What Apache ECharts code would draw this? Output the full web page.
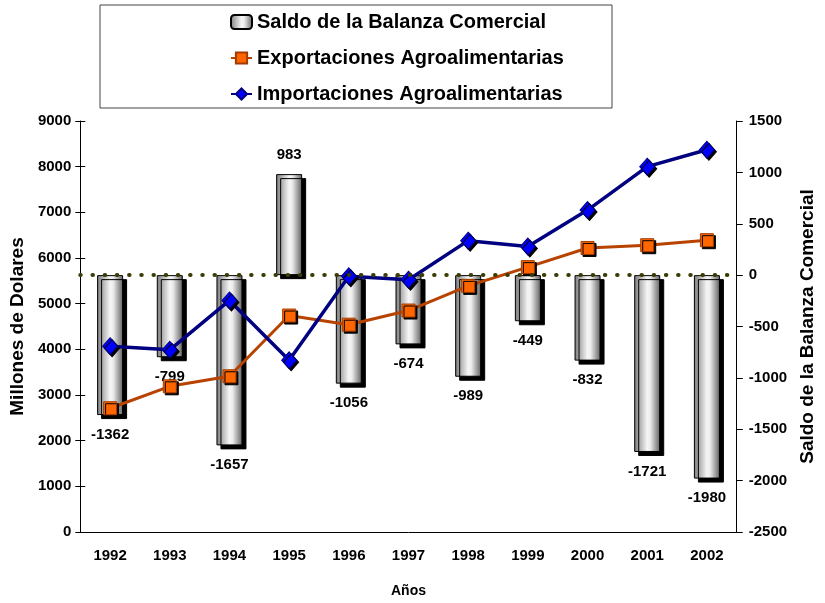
<!DOCTYPE html>
<html>
<head>
<meta charset="utf-8">
<script src="https://cdn.jsdelivr.net/npm/echarts@6/dist/echarts.min.js"></script>
<style>
  html, body { margin: 0; padding: 0; background: #fff; }
  #chart { width: 825px; height: 603px; }
</style>
</head>
<body>
<div id="chart"></div>
<script>
const years = ["1992", "1993", "1994", "1995", "1996", "1997", "1998", "1999", "2000", "2001", "2002"];
const saldo = [-1362, -799, -1657, 983, -1056, -674, -989, -449, -832, -1721, -1980];
const exportaciones = [2710, 3190, 3410, 4740, 4540, 4850, 5390, 5800, 6220, 6280, 6390];
const importaciones = [4070, 3990, 5070, 3760, 5600, 5525, 6380, 6250, 7050, 8000, 8370];
const leftTicks = { min: 0, max: 9000, interval: 1000 };
const rightTicks = { min: -2500, max: 1500, interval: 500 };

const FONT = "'Liberation Sans', Arial, sans-serif";

let chart = echarts.init(document.getElementById("chart"));

// degradado gris tipo cilindro para las barras
let barGradient = new echarts.graphic.LinearGradient(0, 0, 1, 0, [
  { offset: 0, color: "#7a7a7a" },
  { offset: 0.5, color: "#f6f6f6" },
  { offset: 0.62, color: "#ececec" },
  { offset: 1, color: "#606060" }
]);

let plainNumber = v => String(v);

let option = {
  animation: false,
  backgroundColor: "#fff",
  textStyle: { fontFamily: FONT },
  graphic: [
    {
      type: "rect",
      shape: { x: 100, y: 5, width: 512, height: 103 },
      style: { fill: "none", stroke: "#444", lineWidth: 1 },
      z: 0
    }
  ],
  legend: {
    orient: "vertical",
    left: 225,
    top: 6,
    itemWidth: 21,
    itemHeight: 14,
    itemGap: 14,
    textStyle: { fontFamily: FONT, fontSize: 20, fontWeight: "bold", color: "#000", lineHeight: 22 },
    data: [
      "Saldo de la Balanza Comercial",
      "Exportaciones Agroalimentarias",
      "Importaciones Agroalimentarias"
    ]
  },
  grid: { left: 75, right: 83, top: 121, bottom: 64 },
  xAxis: [
    {
      type: "category",
      data: years,
      name: "Años",
      nameLocation: "middle",
      nameGap: 52,
      nameTextStyle: { fontFamily: FONT, fontSize: 14, fontWeight: "bold", color: "#000" },
      axisLine: { lineStyle: { color: "#000", width: 1 } },
      axisTick: { length: 7, lineStyle: { color: "#000" } },
      axisLabel: { fontFamily: FONT, fontSize: 15, fontWeight: "bold", color: "#000", margin: 16 }
    },
    {
      type: "category",
      data: years,
      position: "bottom",
      axisLine: { show: false },
      axisTick: { inside: true, length: 7, lineStyle: { color: "#000" } },
      axisLabel: { show: false }
    }
  ],
  yAxis: [
    {
      type: "value",
      min: leftTicks.min,
      max: leftTicks.max,
      interval: leftTicks.interval,
      name: "Millones de Dolares",
      nameLocation: "middle",
      nameRotate: 90,
      nameGap: 37,
      nameTextStyle: { fontFamily: FONT, fontSize: 19, fontWeight: "bold", color: "#000" },
      axisLine: { show: true, lineStyle: { color: "#000", width: 1 } },
      axisTick: { show: true, length: 5, lineStyle: { color: "#000" } },
      axisLabel: { fontFamily: FONT, fontSize: 15, fontWeight: "bold", color: "#000", margin: 9, formatter: plainNumber },
      splitLine: { show: false }
    },
    {
      type: "value",
      position: "right",
      min: rightTicks.min,
      max: rightTicks.max,
      interval: rightTicks.interval,
      name: "Saldo de la Balanza Comercial",
      nameLocation: "middle",
      nameRotate: 90,
      nameGap: 40,
      nameTextStyle: { fontFamily: FONT, fontSize: 19, fontWeight: "bold", color: "#000" },
      axisLine: { show: true, lineStyle: { color: "#000", width: 1 } },
      axisTick: { show: true, length: 6, lineStyle: { color: "#000" } },
      axisLabel: { fontFamily: FONT, fontSize: 15, fontWeight: "bold", color: "#000", margin: 12, formatter: plainNumber },
      splitLine: { show: false }
    },
    {
      // solo para las marcas interiores del eje izquierdo
      type: "value",
      position: "left",
      min: leftTicks.min,
      max: leftTicks.max,
      interval: leftTicks.interval,
      axisLine: { show: false },
      axisTick: { show: true, inside: true, length: 5, lineStyle: { color: "#000" } },
      axisLabel: { show: false },
      splitLine: { show: false }
    }
  ],
  series: [
    {
      name: "Saldo de la Balanza Comercial",
      type: "bar",
      yAxisIndex: 1,
      barWidth: 26,
      itemStyle: {
        color: barGradient,
        borderColor: "#000",
        borderWidth: 1,
        shadowColor: "#000",
        shadowOffsetX: 4,
        shadowOffsetY: 4,
        shadowBlur: 0
      },
      label: {
        show: true,
        distance: 12,
        fontFamily: FONT,
        fontSize: 15,
        fontWeight: "bold",
        color: "#000"
      },
      data: saldo.map(v => ({ value: v, label: { position: v < 0 ? "bottom" : "top" } })),
      markLine: {
        silent: true,
        symbol: ["none", "none"],
        label: { show: false },
        lineStyle: { color: "#3c3c06", width: 4, type: [0.5, 11.7], cap: "round" },
        data: [{ yAxis: 0 }]
      },
      z: 2
    },
    {
      name: "Exportaciones Agroalimentarias",
      type: "line",
      symbol: "rect",
      symbolSize: 13,
      lineStyle: { color: "#b84300", width: 3 },
      itemStyle: {
        color: "#ff6600",
        borderColor: "#a33b00",
        borderWidth: 1,
        shadowColor: "#000",
        shadowOffsetX: 2,
        shadowOffsetY: 2,
        shadowBlur: 0
      },
      data: exportaciones,
      z: 3
    },
    {
      name: "Importaciones Agroalimentarias",
      type: "line",
      symbol: "diamond",
      symbolSize: [15, 17],
      lineStyle: { color: "#000080", width: 3.5 },
      itemStyle: {
        color: "#0000ff",
        borderColor: "#000080",
        borderWidth: 1,
        shadowColor: "#000",
        shadowOffsetX: 2,
        shadowOffsetY: 2,
        shadowBlur: 0
      },
      data: importaciones,
      z: 4
    }
  ]
};

chart.setOption(option);
</script>
</body>
</html>
